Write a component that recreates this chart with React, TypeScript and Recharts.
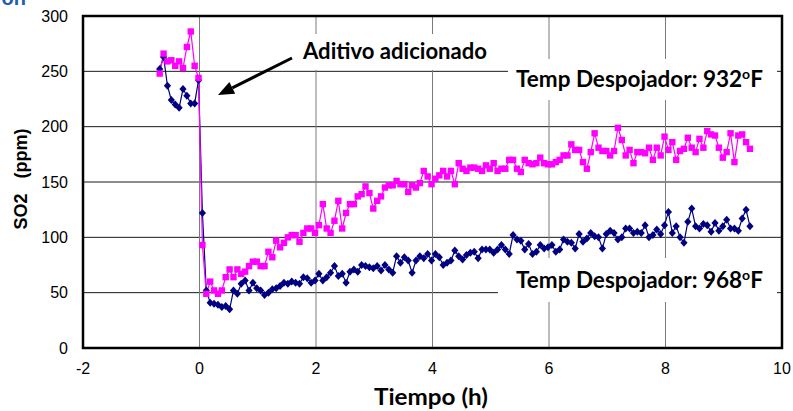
import { ComposedChart, Line, XAxis, YAxis, CartesianGrid, ReferenceArea } from 'recharts';

// logger samples every 4 minutes, first one 41 min before the additive
const START_MIN = -41;
const STEP_MIN = 4;

// SO2 (ppm), stripper temp 932°F
const SO2_932 = [
  248, 266, 259, 260, 255, 259, 253, 272, 286, 255, 244,
  93, 49, 60, 52, 49, 52, 64, 71, 64, 71, 67, 69, 74, 78, 78, 74, 74, 87, 82, 97,
  91, 95, 100, 102, 102, 96, 104, 108, 108, 104, 111, 130, 108, 104, 115, 133, 108, 122, 130, 130,
  137, 139, 146, 140, 126, 133,
  137, 145, 147, 147, 151, 148, 148, 141, 147, 145, 149, 160, 155, 148, 153, 156, 160, 155, 160, 148,
  167, 162, 160, 163, 163, 162, 160, 165, 162, 167, 160, 162, 162, 170, 170, 162, 159, 170, 167, 166,
  167, 172, 167, 166, 166, 168, 170, 174, 174, 184, 179, 179, 168, 162,
  177, 194, 181, 178, 178, 174, 178, 199, 188, 174, 179, 167, 177, 177, 176, 181, 170, 181, 174, 191,
  179, 186, 170, 178, 180, 190, 181, 177, 189, 181, 196, 193, 192, 181, 172, 177, 194, 168, 192, 193,
  186, 180,
];

// SO2 (ppm), stripper temp 968°F
const SO2_968 = [
  252, 263, 237, 224, 220, 217, 234, 228, 221, 221, 242,
  122, 52, 41, 40, 39, 37, 38, 35, 52, 49, 58, 61, 52, 59, 54, 52, 48, 50, 53, 54,
  56, 59, 58, 60, 59, 58, 64, 63, 59, 61, 67, 61, 64, 68, 74, 65, 67, 59, 69, 71,
  69, 75, 74, 73, 72, 74,
  70, 75, 71, 68, 83, 77, 82, 79, 68, 79, 83, 81, 85, 79, 85, 82, 75, 77, 79, 88,
  83, 80, 84, 86, 87, 81, 89, 89, 89, 86, 89, 93, 89, 85, 102, 98, 97, 89, 94, 85,
  87, 93, 90, 91, 93, 87, 89, 98, 96, 95, 90, 103, 96, 99,
  104, 101, 100, 90, 103, 106, 104, 98, 100, 108, 108, 104, 105, 104, 111, 100, 102, 107, 103, 111,
  123, 104, 110, 100, 95, 114, 126, 110, 108, 112, 111, 105, 113, 106, 110, 116, 108, 108, 106, 117,
  125, 110,
];

const X_TICKS = [-2, 0, 2, 4, 6, 8, 10];
const Y_TICKS = [0, 50, 100, 150, 200, 250, 300];

const data = SO2_932.map((v, i) => ({
  t: (START_MIN + i * STEP_MIN) / 60,
  s932: v,
  s968: SO2_968[i],
}));

const tickFont = { fill: '#000', fontSize: 16, fontFamily: '"Liberation Sans", Arial, sans-serif' };
const noteFont = { fontFamily: 'Lato, "Open Sans", sans-serif', fontWeight: 700, fontSize: 22.5, fill: '#000' };

function SquareDot(props: any) {
  const { cx, cy, index } = props;
  if (cx == null || cy == null) return <g key={index} />;
  return <rect key={index} x={cx - 3.2} y={cy - 3.2} width={6.4} height={6.4} fill="#FF00FF" />;
}

function DiamondDot(props: any) {
  const { cx, cy, index } = props;
  if (cx == null || cy == null) return <g key={index} />;
  return (
    <path key={index} d={`M${cx},${cy - 4}L${cx + 3.6},${cy}L${cx},${cy + 4}L${cx - 3.6},${cy}Z`} fill="#000080" />
  );
}

export default function App() {
  // arrow: tail -> tip
  const ax1 = 292, ay1 = 58, ax2 = 218, ay2 = 95;
  const len = Math.hypot(ax2 - ax1, ay2 - ay1);
  const ux = (ax2 - ax1) / len, uy = (ay2 - ay1) / len;
  const hb = { x: ax2 - ux * 16, y: ay2 - uy * 16 };
  const head = `${ax2},${ay2} ${hb.x - uy * 6.5},${hb.y + ux * 6.5} ${hb.x + uy * 6.5},${hb.y - ux * 6.5}`;

  return (
    <div style={{ position: 'absolute', left: 0, top: 0, width: 793, height: 411, background: '#fff' }}>
      <ComposedChart width={793} height={411} data={data} margin={{ top: 16, right: 11, bottom: 33, left: 23 }}>
        <CartesianGrid horizontal vertical={false} stroke="#1a1a1a" />
        <CartesianGrid horizontal={false} vertical stroke="#7a7a7a" />
        <XAxis type="number" dataKey="t" domain={[-2, 10]} ticks={X_TICKS} allowDataOverflow
          tickLine={false} axisLine={false} tickSize={0} tickMargin={15} height={30} tick={tickFont} />
        <YAxis type="number" domain={[0, 300]} ticks={Y_TICKS} allowDataOverflow
          tickLine={false} axisLine={false} tickSize={0} tickMargin={15} width={60} tick={tickFont} />
        <Line type="linear" dataKey="s968" stroke="#000080" strokeWidth={1.2} dot={DiamondDot} isAnimationActive={false} />
        <Line type="linear" dataKey="s932" stroke="#FF00FF" strokeWidth={1.2} dot={SquareDot} isAnimationActive={false} />
        <ReferenceArea x1={-2} x2={10} y1={0} y2={300} fill="none" fillOpacity={0} stroke="#000" strokeWidth={2.5} ifOverflow="visible" />
      </ComposedChart>

      <svg width={793} height={411} style={{ position: 'absolute', left: 0, top: 0, pointerEvents: 'none' }}>
        <text x={26} y={5} textAnchor="end" fontFamily='"Liberation Sans", Arial, sans-serif' fontWeight={700} fontSize={20} fill="#1F5FAD">on</text>

        <rect x={296} y={34} width={199} height={36} fill="#fff" />
        <text x={303} y={59} textLength={184} lengthAdjust="spacingAndGlyphs" {...noteFont} fontSize={22}>Aditivo adicionado</text>
        <line x1={ax1} y1={ay1} x2={hb.x} y2={hb.y} stroke="#000" strokeWidth={3} />
        <polygon points={head} fill="#000" />

        <rect x={508} y={59} width={269} height={41} fill="#fff" />
        <text x={516} y={87} {...noteFont}>
          Temp Despojador: 932<tspan fontSize={14} dy={-8.5}>o</tspan><tspan dy={8.5}>F</tspan>
        </text>

        <rect x={498} y={258} width={279} height={44} fill="#fff" />
        <text x={516} y={288} {...noteFont}>
          Temp Despojador: 968<tspan fontSize={14} dy={-8.5}>o</tspan><tspan dy={8.5}>F</tspan>
        </text>

        <text x={431} y={405} textAnchor="middle" textLength={114} lengthAdjust="spacingAndGlyphs" {...noteFont} fontSize={22}>Tiempo (h)</text>
        <text x={27} y={179} textAnchor="middle" transform="rotate(-90 27 179)"
          fontFamily='"Liberation Sans", Arial, sans-serif' fontWeight={700} fontSize={18} fill="#000">
          {'SO2\u00a0\u00a0\u00a0(ppm)'}
        </text>
      </svg>
    </div>
  );
}
